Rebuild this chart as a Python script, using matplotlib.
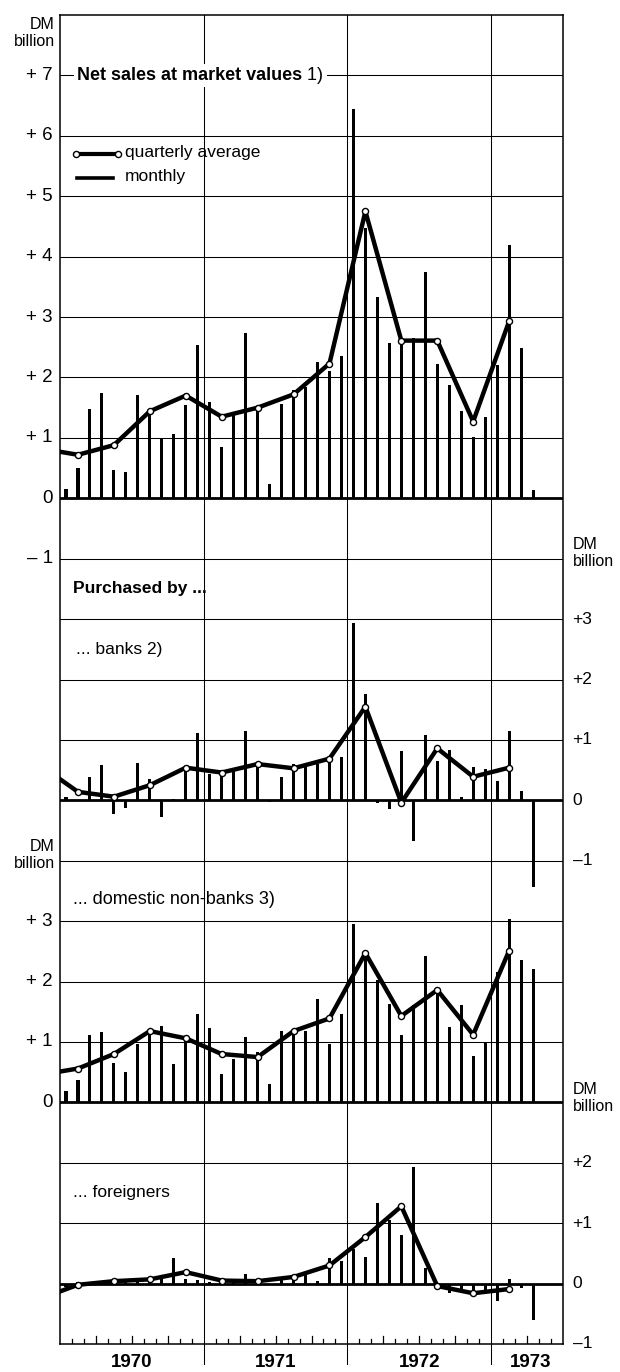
import matplotlib.pyplot as plt
import numpy as np

plt.rcParams['font.family'] = ['Liberation Sans', 'DejaVu Sans']

# monthly values Jan 1970 .. Apr 1973, DM billion
net_sales_monthly = [0.15, 0.50, 1.48, 1.74, 0.47, 0.43, 1.71, 1.40, 0.99, 1.07, 1.55, 2.54,
                     1.60, 0.85, 1.41, 2.73, 1.50, 0.23, 1.56, 1.80, 1.85, 2.25, 2.10, 2.36,
                     6.45, 4.47, 3.34, 2.57, 2.65, 2.65, 3.75, 2.22, 1.88, 1.44, 1.01, 1.34,
                     2.21, 4.19, 2.48, 0.13]
banks_monthly = [0.05, -0.01, 0.38, 0.58, -0.23, -0.12, 0.61, 0.35, -0.27, 0.02, 0.54, 1.11,
                 0.43, 0.49, 0.49, 1.15, 0.62, -0.03, 0.38, 0.60, 0.60, 0.60, 0.71, 0.71,
                 2.94, 1.76, -0.04, -0.15, 0.82, -0.67, 1.08, 0.65, 0.83, 0.06, 0.55, 0.52,
                 0.32, 1.15, 0.15, -1.44]
domestic_monthly = [0.19, 0.37, 1.12, 1.17, 0.65, 0.50, 0.97, 1.18, 1.26, 0.64, 1.06, 1.47,
                    1.23, 0.47, 0.71, 1.08, 0.84, 0.30, 1.18, 1.15, 1.18, 1.71, 0.97, 1.46,
                    2.96, 2.46, 2.02, 1.63, 1.11, 1.62, 2.43, 1.90, 1.24, 1.61, 0.76, 0.98,
                    2.15, 3.04, 2.36, 2.20]
foreign_monthly = [-0.06, 0.02, -0.02, 0.02, 0.06, 0.04, 0.05, 0.08, 0.08, 0.43, 0.08, 0.06,
                   0.02, 0.06, 0.07, 0.16, -0.02, -0.02, 0.06, 0.12, 0.15, 0.04, 0.43, 0.37,
                   0.58, 0.44, 1.33, 1.05, 0.80, 1.93, 0.26, -0.10, -0.15, -0.12, -0.20, -0.16,
                   -0.28, 0.08, -0.07, -0.61]

# quarterly averages Q4 1969 .. Q1 1973
net_sales_quarterly = [0.82, 0.72, 0.88, 1.44, 1.70, 1.35, 1.50, 1.72, 2.23, 4.75, 2.61, 2.61, 1.27, 2.93]
banks_quarterly = [0.56, 0.14, 0.06, 0.25, 0.54, 0.46, 0.60, 0.53, 0.69, 1.55, -0.04, 0.86, 0.39, 0.54]
domestic_quarterly = [0.46, 0.56, 0.80, 1.18, 1.06, 0.80, 0.75, 1.18, 1.39, 2.47, 1.43, 1.86, 1.12, 2.51]
foreign_quarterly = [-0.24, -0.02, 0.04, 0.07, 0.19, 0.05, 0.04, 0.11, 0.30, 0.77, 1.28, -0.04, -0.16, -0.09]

years = ['1970', '1971', '1972', '1973']

# panels: (monthly, quarterly, baseline on the shared grid, tick values, tick side)
panels = [
    (net_sales_monthly, net_sales_quarterly, 14, [7, 6, 5, 4, 3, 2, 1, 0, -1], 'left'),
    (banks_monthly, banks_quarterly, 9, [3, 2, 1, 0, -1], 'right'),
    (domestic_monthly, domestic_quarterly, 4, [3, 2, 1, 0], 'left'),
    (foreign_monthly, foreign_quarterly, 1, [2, 1, 0, -1], 'right'),
]

n_months = 42
fig = plt.figure(figsize=(6.2, 13.72), dpi=100)
ax = fig.add_axes([60 / 620, 28 / 1372, 503 / 620, 1329 / 1372])
ax.set_xlim(0, n_months)
ax.set_ylim(0, 22)
ax.set_xticks([])
ax.set_yticks([])
for s in ax.spines.values():
    s.set_linewidth(1.1)

# grid
for u in range(1, 22):
    ax.axhline(u, color='black', lw=0.75, zorder=1)
for m in (12, 24, 36):
    ax.axvline(m, color='black', lw=0.75, zorder=1)
    ax.plot([m, m], [0, -0.33], color='black', lw=0.75, clip_on=False)

# month ticks along the bottom
for m in range(1, n_months):
    if m % 12 == 0:
        continue
    h = 0.14 if m % 3 == 0 else 0.09
    ax.plot([m, m], [0, h], color='black', lw=0.9)


def fmt(v):
    if v > 0:
        return '+ %d' % v
    if v < 0:
        return '\u2013 %d' % abs(v)
    return '0'


x_month = np.arange(len(net_sales_monthly)) + 0.5
x_quarter = np.arange(len(net_sales_quarterly)) * 3 - 1.5

for monthly, quarterly, base, ticks, side in panels:
    ax.axhline(base, color='black', lw=2.0, zorder=2)
    ax.bar(x_month, monthly, bottom=base, width=0.26, color='black', zorder=3)
    ax.plot(x_quarter, np.array(quarterly) + base, color='black', lw=3.2, zorder=4,
            marker='o', markersize=4.4, markerfacecolor='white', markeredgecolor='black',
            markeredgewidth=1.0)
    for t in ticks:
        if side == 'left':
            ax.text(-0.6, base + t, fmt(t), ha='right', va='center', fontsize=13.5, clip_on=False)
        else:
            ax.text(n_months + 0.8, base + t, fmt(t).replace(' ', ''), ha='left', va='center',
                    fontsize=12.5, clip_on=False)

# unit labels
unit_kw = dict(fontsize=11.5, linespacing=1.15, clip_on=False)
ax.text(-0.45, 21.7, 'DM\nbillion', ha='right', va='center', **unit_kw)
ax.text(n_months + 0.8, 13.1, 'DM\nbillion', ha='left', va='center', **unit_kw)
ax.text(-0.45, 8.1, 'DM\nbillion', ha='right', va='center', **unit_kw)
ax.text(n_months + 0.8, 4.07, 'DM\nbillion', ha='left', va='center', **unit_kw)

# panel titles
title = ax.text(1.42, 21, 'Net sales at market values', ha='left', va='center', fontsize=13,
                fontweight='bold', zorder=6,
                bbox=dict(facecolor='white', edgecolor='none', pad=2))
ax.annotate(' 1)', xy=(1, 0.5), xycoords=title, ha='left', va='center', fontsize=13, zorder=5,
            bbox=dict(facecolor='white', edgecolor='none', pad=3))
ax.text(1.1, 12.5, 'Purchased by ...', ha='left', va='center', fontsize=12.5, fontweight='bold')
ax.text(1.35, 11.5, '... banks 2)', ha='left', va='center', fontsize=12.5)
ax.text(1.1, 7.35, '... domestic non-banks 3)', ha='left', va='center', fontsize=13)
ax.text(1.1, 2.5, '... foreigners', ha='left', va='center', fontsize=12.5)

# legend
ax.plot([1.3, 4.85], [19.7, 19.7], color='black', lw=3.0, marker='o', markersize=4.4,
        markerfacecolor='white', markeredgewidth=1.0)
ax.plot([1.45, 4.45], [19.3, 19.3], color='black', lw=2.6)
ax.text(5.45, 19.72, 'quarterly average', ha='left', va='center', fontsize=12.5)
ax.text(5.45, 19.32, 'monthly', ha='left', va='center', fontsize=12.5)

# year labels
for i, y in enumerate(years):
    xc = 12 * i + 6 if i < 3 else 39.3
    ax.text(xc, -0.3, y, ha='center', va='center', fontsize=13.5, fontweight='bold', clip_on=False)

plt.savefig('out.png', dpi=100)
plt.close()
